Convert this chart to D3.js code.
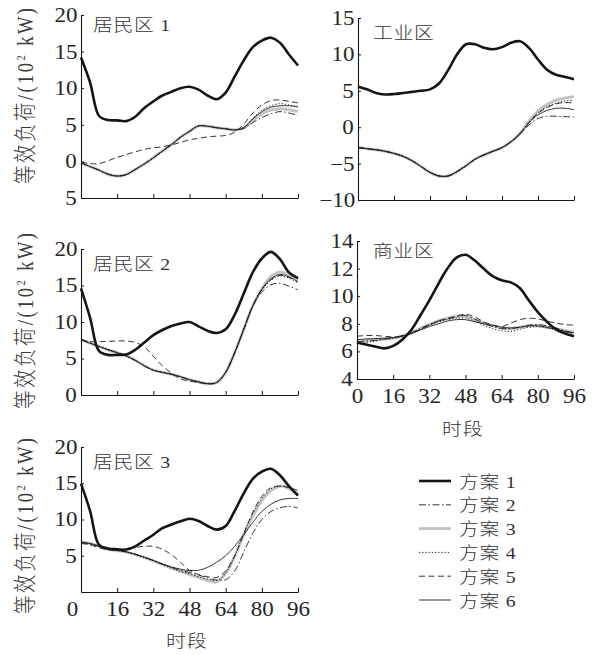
<!DOCTYPE html>
<html>
<head>
<meta charset="utf-8">
<script src="https://cdn.jsdelivr.net/npm/d3@7"></script>
<style>
  body { margin: 0; background: #fff; }
  svg text { font-family: "Liberation Serif", "Noto Sans CJK SC", serif; fill: #2b2b2b; }
  .tick text { font-size: 20px; fill: #262626; transform-box: fill-box; transform-origin: center; transform: scaleX(1.15); }
  .cjk { font-size: 16.5px; font-weight: 300; fill: #333; }
  .ytitle { font-weight: 300; fill: #3a3a3a; }
</style>
</head>
<body>
<svg id="chart" width="596" height="655"></svg>
<script>
// time periods (15-min slots of a day)
const periods = [0,4,8,12,16,20,24,28,32,36,40,44,48,52,56,60,64,68,72,76,80,84,88,92,96];
const xTicks = [0,16,32,48,64,80,96];
const xTickLabels = ["0","16","32","48","64","80","96"];
const planNames = ["方案 1","方案 2","方案 3","方案 4","方案 5","方案 6"];

// 居民区 1
const res1YTicks = [-5,0,5,10,15,20];
const res1YLabels = ["5","0","5","10","15","20"];
const res1Plan1 = [14.2,10.8,6.2,5.65,5.6,5.5,6.1,7.3,8.2,9.0,9.5,10.0,10.2,9.8,9.0,8.5,9.4,11.6,13.8,15.6,16.5,16.9,16.2,14.6,13.1];
const res1Plan2 = [-0.2,-0.7,-1.2,-1.75,-2.0,-1.8,-1.1,-0.35,0.5,1.4,2.3,3.3,4.1,4.85,4.8,4.6,4.45,4.3,4.5,5.3,6.0,6.5,6.8,6.6,6.3];
const res1Plan3 = [-0.2,-0.7,-1.2,-1.75,-2.0,-1.8,-1.1,-0.35,0.5,1.4,2.3,3.3,4.1,4.85,4.8,4.6,4.45,4.3,4.6,5.6,6.5,7.0,7.2,7.05,6.8];
const res1Plan4 = [-0.2,-0.7,-1.2,-1.75,-2.0,-1.8,-1.1,-0.35,0.5,1.4,2.3,3.3,4.1,4.85,4.8,4.6,4.45,4.3,4.65,5.9,7.0,7.6,7.9,7.7,7.35];
const res1Plan5 = [-0.1,-0.3,-0.3,0.1,0.55,0.95,1.3,1.65,1.85,2.0,2.25,2.6,2.95,3.15,3.35,3.45,3.55,4.0,5.1,6.6,7.7,8.3,8.4,8.2,8.0];
const res1Plan6 = [-0.2,-0.7,-1.2,-1.75,-2.0,-1.8,-1.1,-0.35,0.5,1.4,2.3,3.3,4.1,4.85,4.8,4.6,4.45,4.3,4.6,5.8,6.8,7.4,7.6,7.6,7.5];

// 工业区
const indYTicks = [-10,-5,0,5,10,15];
const indYLabels = ["\u221210","\u22125","0","5","10","15"];
const indPlan1 = [5.6,5.2,4.7,4.5,4.55,4.7,4.85,5.0,5.2,6.0,7.8,10.0,11.4,11.4,10.9,10.7,11.0,11.6,11.8,10.9,9.3,7.9,7.2,6.9,6.6];
const indPlan2 = [-2.8,-2.95,-3.1,-3.3,-3.6,-4.0,-4.6,-5.4,-6.2,-6.7,-6.7,-6.1,-5.3,-4.4,-3.8,-3.3,-2.8,-2.0,-1.0,0.3,1.2,1.5,1.5,1.45,1.4];
const indPlan3 = [-2.8,-2.95,-3.1,-3.3,-3.6,-4.0,-4.6,-5.4,-6.2,-6.7,-6.7,-6.1,-5.3,-4.4,-3.8,-3.3,-2.8,-2.0,-0.8,0.8,2.2,3.1,3.7,4.0,4.2];
const indPlan4 = [-2.8,-2.95,-3.1,-3.3,-3.6,-4.0,-4.6,-5.4,-6.2,-6.7,-6.7,-6.1,-5.3,-4.4,-3.8,-3.3,-2.8,-2.0,-0.85,0.7,2.0,2.8,3.3,3.6,3.7];
const indPlan5 = [-2.8,-2.95,-3.1,-3.3,-3.6,-4.0,-4.6,-5.4,-6.2,-6.7,-6.7,-6.1,-5.3,-4.4,-3.8,-3.3,-2.8,-2.0,-0.9,0.65,1.9,2.7,3.2,3.4,3.3];
const indPlan6 = [-2.8,-2.95,-3.1,-3.3,-3.6,-4.0,-4.6,-5.4,-6.2,-6.7,-6.7,-6.1,-5.3,-4.4,-3.8,-3.3,-2.8,-2.0,-0.9,0.6,1.7,2.3,2.6,2.6,2.4];

// 居民区 2
const res2YTicks = [0,5,10,15,20];
const res2YLabels = ["0","5","10","15","20"];
const res2Plan1 = [14.6,10.6,6.0,5.5,5.5,5.55,6.2,7.2,8.2,8.9,9.45,9.8,10.0,9.4,8.8,8.5,9.0,11.0,13.9,16.8,18.7,19.6,18.6,16.8,16.0];
const res2Plan2 = [7.6,7.1,6.65,6.2,5.8,5.35,4.75,4.0,3.4,3.1,2.85,2.5,2.1,1.8,1.55,1.7,3.1,5.8,9.0,12.2,14.1,15.1,15.3,14.9,14.4];
const res2Plan3 = [7.6,7.1,6.65,6.2,5.8,5.35,4.75,4.0,3.4,3.1,2.85,2.5,2.1,1.8,1.55,1.7,3.1,5.8,9.0,12.2,14.5,16.2,16.8,16.5,15.8];
const res2Plan4 = [7.6,7.1,6.65,6.2,5.8,5.35,4.75,4.0,3.4,3.1,2.85,2.5,2.1,1.8,1.55,1.7,3.1,5.8,9.0,12.2,14.4,15.7,16.3,16.0,15.3];
const res2Plan5 = [7.6,7.3,7.3,7.35,7.4,7.4,7.2,6.6,5.3,4.0,3.0,2.2,1.9,1.7,1.55,1.7,3.1,5.8,9.0,12.2,14.5,15.8,16.4,16.1,15.5];
const res2Plan6 = [7.6,7.1,6.65,6.2,5.8,5.35,4.75,4.0,3.4,3.1,2.85,2.5,2.1,1.8,1.55,1.7,3.1,5.8,9.0,12.2,14.5,15.9,16.5,16.2,15.5];

// 商业区
const comYTicks = [4,6,8,10,12,14];
const comYLabels = ["4","6","8","10","12","14"];
const comPlan1 = [6.65,6.5,6.35,6.22,6.4,6.85,7.55,8.6,9.7,10.9,12.0,12.8,13.0,12.6,12.0,11.45,11.15,11.0,10.6,9.7,8.85,8.15,7.6,7.3,7.1];
const comPlan2 = [6.7,6.75,6.8,6.9,7.0,7.15,7.35,7.65,7.95,8.2,8.35,8.5,8.6,8.35,8.05,7.8,7.65,7.65,7.75,7.9,7.95,7.85,7.7,7.5,7.3];
const comPlan3 = [6.75,6.8,6.85,6.9,6.95,7.1,7.35,7.65,7.95,8.2,8.4,8.55,8.55,8.3,8.05,7.85,7.7,7.65,7.75,7.85,7.85,7.75,7.65,7.5,7.4];
const comPlan4 = [6.55,6.65,6.75,6.85,6.95,7.1,7.3,7.6,7.9,8.15,8.3,8.4,8.4,8.2,7.9,7.65,7.5,7.45,7.6,7.75,7.8,7.7,7.55,7.4,7.3];
const comPlan5 = [7.1,7.15,7.15,7.1,7.05,7.1,7.3,7.6,7.9,8.2,8.4,8.55,8.7,8.5,8.15,7.9,7.8,8.05,8.3,8.4,8.35,8.2,8.05,7.95,7.9];
const comPlan6 = [6.85,6.9,6.93,6.95,7.0,7.1,7.3,7.55,7.8,8.0,8.2,8.3,8.3,8.15,8.0,7.9,7.75,7.7,7.75,7.85,7.85,7.75,7.6,7.45,7.35];

// 居民区 3
const res3YTicks = [5,10,15,20];
const res3YLabels = ["5","10","15","20"];
const res3Plan1 = [14.95,11.2,6.5,6.0,5.9,5.85,6.3,7.1,7.9,8.8,9.3,9.75,10.1,9.8,9.1,8.6,9.1,11.2,13.6,15.6,16.6,17.0,16.1,14.6,13.3];
const res3Plan2 = [6.8,6.6,6.3,5.95,5.75,5.55,5.2,4.8,4.35,3.85,3.4,3.0,2.7,2.35,1.95,1.65,1.7,2.9,5.5,8.1,10.0,11.1,11.6,11.8,11.6];
const res3Plan3 = [6.9,6.7,6.3,5.9,5.7,5.5,5.15,4.75,4.3,3.8,3.3,2.85,2.45,2.0,1.6,1.4,2.6,4.9,7.9,10.5,12.6,14.0,14.6,14.3,13.4];
const res3Plan4 = [6.85,6.65,6.3,5.9,5.7,5.5,5.15,4.75,4.3,3.8,3.3,2.85,2.5,2.1,1.75,1.6,2.6,5.0,8.1,10.8,12.9,14.2,14.6,14.4,13.6];
const res3Plan5 = [6.7,6.5,6.1,5.8,5.8,5.95,6.15,6.3,6.3,5.9,5.15,4.1,3.0,2.4,2.1,2.0,2.9,5.0,8.0,11.0,13.2,14.4,14.6,14.4,14.0];
const res3Plan6 = [6.9,6.7,6.35,5.95,5.75,5.55,5.2,4.8,4.35,3.85,3.45,3.15,2.95,3.0,3.4,4.1,5.0,6.3,7.9,9.6,11.1,12.1,12.7,12.9,12.9];

// line appearance per plan
const planStyles = [
  { stroke: "#151515", width: 2.6, dash: null },
  { stroke: "#1e1e1e", width: 0.9, dash: "7,2.5,1.5,2.5" },
  { stroke: "#c3c3c3", width: 3.0, dash: null },
  { stroke: "#1e1e1e", width: 1.0, dash: "1.2,2" },
  { stroke: "#1e1e1e", width: 0.9, dash: "6,3.5" },
  { stroke: "#1e1e1e", width: 0.9, dash: null }
];
const drawOrder = [2, 4, 1, 3, 5, 0];

const panels = [
  { title: "居民区 1", tx: 93, ty: 30.5, left: 81, right: 298, top: 15, bottom: 198,
    yDomain: [-5, 20], yTicks: res1YTicks, yLabels: res1YLabels,
    series: [res1Plan1, res1Plan2, res1Plan3, res1Plan4, res1Plan5, res1Plan6], yTitleY: 96 },
  { title: "工业区", tx: 373, ty: 38.5, left: 358, right: 574, top: 18, bottom: 200,
    yDomain: [-10, 15], yTicks: indYTicks, yLabels: indYLabels,
    series: [indPlan1, indPlan2, indPlan3, indPlan4, indPlan5, indPlan6] },
  { title: "居民区 2", tx: 93, ty: 270, left: 81, right: 298, top: 249, bottom: 395,
    yDomain: [0, 20], yTicks: res2YTicks, yLabels: res2YLabels,
    series: [res2Plan1, res2Plan2, res2Plan3, res2Plan4, res2Plan5, res2Plan6], yTitleY: 321 },
  { title: "商业区", tx: 373, ty: 256.5, left: 357, right: 574, top: 241, bottom: 379,
    yDomain: [4, 14], yTicks: comYTicks, yLabels: comYLabels,
    series: [comPlan1, comPlan2, comPlan3, comPlan4, comPlan5, comPlan6],
    xLabels: true, xTitle: [463, 435], zeroShift: 0 },
  { title: "居民区 3", tx: 93, ty: 468, left: 81, right: 298, top: 447, bottom: 592,
    yDomain: [0, 20], yTicks: res3YTicks, yLabels: res3YLabels,
    series: [res3Plan1, res3Plan2, res3Plan3, res3Plan4, res3Plan5, res3Plan6], yTitleY: 526,
    xLabels: true, xTitle: [187, 647], zeroShift: -9 }
];

const svg = d3.select("#chart");
const curve = d3.curveCatmullRom.alpha(0.5);

panels.forEach(p => {
  const g = svg.append("g");
  const x = d3.scaleLinear().domain([0, 96]).range([p.left, p.right]);
  const y = d3.scaleLinear().domain(p.yDomain).range([p.bottom, p.top]);

  // load curves
  const line = d3.line().x((d, i) => x(periods[i])).y(d => y(d)).curve(curve);
  drawOrder.forEach(k => {
    const s = planStyles[k];
    g.append("path")
      .attr("d", line(p.series[k]))
      .attr("fill", "none")
      .attr("stroke", s.stroke)
      .attr("stroke-width", s.width)
      .attr("stroke-linejoin", "round")
      .attr("stroke-dasharray", s.dash);
  });

  // axes with inward ticks
  const yAxis = d3.axisLeft(y).tickValues(p.yTicks)
    .tickFormat((d, i) => p.yLabels[i])
    .tickSizeInner(-3).tickSizeOuter(0).tickPadding(5);
  g.append("g").attr("transform", `translate(${p.left},0)`).call(yAxis)
    .attr("color", "#151515").attr("font-size", null).attr("font-family", null)
    .select(".domain").attr("stroke-width", 1.1);

  const xAxis = d3.axisBottom(x).tickValues(xTicks)
    .tickFormat((d, i) => p.xLabels ? xTickLabels[i] : "")
    .tickSizeInner(-4).tickSizeOuter(0).tickPadding(10);
  const xg = g.append("g").attr("transform", `translate(0,${p.bottom})`).call(xAxis)
    .attr("color", "#151515").attr("font-size", null).attr("font-family", null);
  xg.select(".domain").attr("stroke-width", 1.1);
  if (p.zeroShift) xg.selectAll(".tick text").filter(d => d === 0).attr("x", p.zeroShift);

  // panel title
  g.append("text").attr("class", "cjk")
    .attr("letter-spacing", 0.6)
    .attr("transform", `translate(${p.tx},${p.ty}) scale(1.2,1)`)
    .text(p.title);

  // x-axis title
  if (p.xTitle) {
    g.append("text").attr("class", "cjk")
      .attr("text-anchor", "middle")
      .attr("letter-spacing", 1)
      .attr("transform", `translate(${p.xTitle[0]},${p.xTitle[1]}) scale(1.2,1)`)
      .text("时段");
  }

  // y-axis title
  if (p.yTitleY) {
    const t = g.append("text").attr("class", "ytitle")
      .attr("text-anchor", "middle")
      .attr("font-size", 18.5)
      .attr("textLength", 176)
      .attr("lengthAdjust", "spacing")
      .attr("transform", `translate(33,${p.yTitleY}) scale(1.2,1) rotate(-90)`);
    t.append("tspan").text("等效负荷/(10");
    t.append("tspan").attr("dy", -7).attr("font-size", 10.5).text("2");
    t.append("tspan").attr("dy", 7).text(" kW)");
  }
});

// legend
const legend = svg.append("g");
planNames.forEach((name, k) => {
  const rowY = 481 + k * 23.8;
  const s = planStyles[k];
  legend.append("line")
    .attr("x1", 419).attr("x2", 451).attr("y1", rowY).attr("y2", rowY)
    .attr("stroke", s.stroke).attr("stroke-width", s.width)
    .attr("stroke-dasharray", s.dash);
  legend.append("text").attr("class", "cjk")
    .attr("letter-spacing", 0.6)
    .attr("transform", `translate(459,${rowY + 6.5}) scale(1.2,1)`)
    .text(name);
});
</script>
</body>
</html>
